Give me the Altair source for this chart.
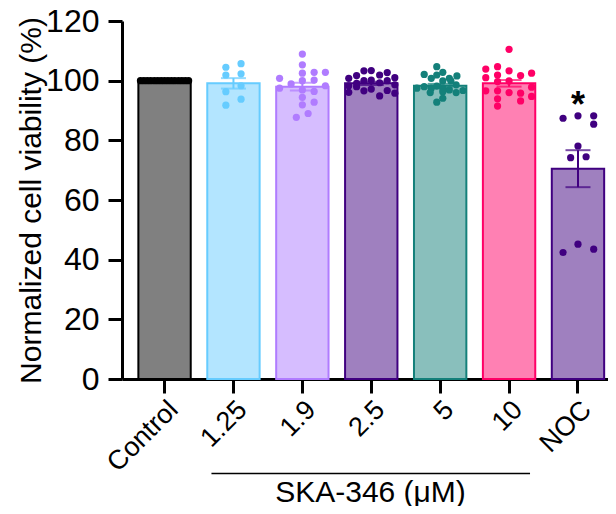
import altair as alt
import pandas as pd

FONT = "Liberation Sans"

groups = ["Control", "1.25", "1.9", "2.5", "5", "10", "NOC"]
means = [100.0, 99.1, 98.0, 99.1, 98.3, 99.1, 70.5]
sems = [0.0, 1.75, 1.3, 0.55, 0.62, 1.1, 6.2]
line_colors = ["#000000", "#66CCFF", "#B07CFF", "#400080", "#14807A", "#FF0066", "#400080"]
fill_colors = ["#808080", "#B3E5FF", "#D6BDFF", "#9F80BF", "#89BFBC", "#FF80B3", "#9F80BF"]

# individual replicate values (%) and their horizontal slot within the bar (-1..1 of half width)
ctrl_vals = [100.0] * 15
ctrl_off = [-0.92, -0.79, -0.66, -0.53, -0.39, -0.26, -0.13, 0.0, 0.13, 0.26, 0.39, 0.53, 0.66, 0.79, 0.92]

c125_vals = [104.5, 105.7, 101.9, 102.3, 98.3, 96.3, 93.8, 91.8]
c125_off = [-0.29, 0.29, -0.29, 0.29, 0.29, -0.29, 0.29, -0.29]

c19_vals = [108.9, 105.3, 102.5, 102.8, 102.8, 100.8, 100.0, 100.2, 98.9, 98.3, 97.5, 96.9, 96.4, 94.4, 92.8, 91.9, 89.0, 87.7]
c19_off = [0.0, 0.0, 0.0, 0.45, 0.88, -0.87, 0.0, 0.45, -0.43, 0.88, -0.87, 0.0, 0.45, 0.0, 0.45, 0.0, 0.22, -0.23]

c25_vals = [100.8, 101.7, 103.3, 103.4, 101.9, 102.7, 101.0,
            98.3, 99.1, 100.0, 100.2, 99.3, 100.0, 98.6,
            96.1, 98.0, 96.6, 97.2, 94.9, 96.7, 95.8]
c25_off = [-0.86, -0.56, -0.28, 0.0, 0.32, 0.61, 0.9,
           -0.86, -0.56, -0.28, 0.0, 0.32, 0.61, 0.9,
           -0.86, -0.56, -0.28, 0.0, 0.32, 0.61, 0.9]

c5_vals = [104.7, 102.1, 102.8, 100.8, 101.9, 100.8, 101.6, 99.9, 99.9, 98.6, 97.5,
           98.0, 97.5, 98.2, 97.5, 96.9, 96.7, 96.0, 96.3, 96.0, 94.1, 92.8]
c5_off = [-0.13, -0.61, 0.1, -0.34, -0.13, 0.35, 0.64, 0.1, 0.41, 0.61, -0.89,
          -0.61, -0.34, -0.13, 0.1, 0.35, 0.87, -0.38, 0.1, 0.61, 0.1, -0.13]

c10_vals = [110.5, 103.9, 104.7, 103.3, 101.0, 101.9, 101.7, 102.5, 99.7, 99.9,
            96.6, 96.6, 96.0, 95.8, 97.8, 93.9, 93.2, 94.7, 91.5]
c10_off = [0.0, -0.89, -0.44, 0.0, -0.89, -0.44, 0.44, 0.86, -0.44, 0.0,
           -0.89, -0.44, 0.0, 0.44, 0.86, -0.44, 0.44, 0.86, -0.44]

noc_vals = [87.4, 88.2, 88.2, 85.4, 78.1, 74.2, 74.5, 42.4, 45.2, 43.5]
noc_off = [-0.57, 0.0, 0.6, 0.6, 0.0, -0.28, 0.31, -0.57, 0.0, 0.6]

y_ticks = [0, 20, 40, 60, 80, 100, 120]
x_title = "SKA-346 (μM)"
y_title = "Normalized cell viability (%)"

# ---- tables ----
bars = pd.DataFrame({"group": groups, "mean": means, "sem": sems})
bars["lo"] = bars["mean"] - bars["sem"]
bars["hi"] = bars["mean"] + bars["sem"]

rows = []
for g, vals, offs in [("Control", ctrl_vals, ctrl_off), ("1.25", c125_vals, c125_off),
                      ("1.9", c19_vals, c19_off), ("2.5", c25_vals, c25_off),
                      ("5", c5_vals, c5_off), ("10", c10_vals, c10_off),
                      ("NOC", noc_vals, noc_off)]:
    for v, o in zip(vals, offs):
        rows.append({"group": g, "value": v, "off": o})
pts = pd.DataFrame(rows)

bracket = pd.DataFrame({"group": ["1.25"], "end": ["10"]})
star = pd.DataFrame({"group": ["NOC"], "y": [93.3], "label": ["*"]})

# ---- layout ----
W, H = 486, 358
PI, PO = 0.24, 0.1466
step = W / (len(groups) - PI + 2 * PO)
BW = step * (1 - PI)

xscale = alt.Scale(domain=groups, paddingInner=PI, paddingOuter=PO, align=0.81)
yscale = alt.Scale(domain=[0, 120], nice=False, zero=True, padding=0)
fill_scale = alt.Scale(domain=groups, range=fill_colors)
line_scale = alt.Scale(domain=groups, range=line_colors)

xaxis = alt.Axis(labelAngle=-45, labelAlign="right", labelBaseline="top",
                 labelFont=FONT, labelFontSize=27, labelColor="black", labelPadding=3,
                 tickSize=14, tickWidth=3, tickColor="black",
                 domainWidth=3, domainColor="black",
                 title=x_title, titleFont=FONT, titleFontSize=30, titleFontWeight="normal",
                 titleColor="black", titleY=122, titleX=248, titleBaseline="alphabetic")
yaxis = alt.Axis(values=y_ticks, grid=False,
                 labelFont=FONT, labelFontSize=32, labelColor="black", labelPadding=9,
                 tickSize=14, tickWidth=3, tickColor="black",
                 domainWidth=3, domainColor="black",
                 title=y_title, titleFont=FONT, titleFontSize=30, titleFontWeight="normal",
                 titleColor="black", titleX=-91, titleY=H / 2, titleAlign="center",
                 titleBaseline="middle")

X = alt.X("group:N", sort=groups, scale=xscale, axis=xaxis)
Y = lambda f: alt.Y(f, scale=yscale, axis=yaxis)

bar_layer = alt.Chart(bars).mark_bar(strokeWidth=2).encode(
    x=alt.X("group:N", sort=groups, scale=xscale, axis=xaxis, bandPosition=0),
    x2=alt.X2("group:N", bandPosition=1),
    y=Y("mean:Q"),
    y2=alt.datum(0),
    fill=alt.Fill("group:N", scale=fill_scale, legend=None),
    stroke=alt.Stroke("group:N", scale=line_scale, legend=None),
)

pt_layer = alt.Chart(pts).mark_circle(size=52, opacity=1).encode(
    x=X,
    xOffset=alt.XOffset("off:Q", scale=alt.Scale(domain=[-1, 1], range=[0, BW])),
    y=Y("value:Q"),
    color=alt.Color("group:N", scale=line_scale, legend=None),
)

err_base = alt.Chart(bars).transform_filter("datum.sem > 0")
err_rule = err_base.mark_rule(strokeWidth=2).encode(
    x=X, y=Y("lo:Q"), y2="hi:Q",
    color=alt.Color("group:N", scale=line_scale, legend=None),
)
err_top = err_base.mark_tick(thickness=2, size=25).encode(
    x=X, y=Y("hi:Q"), color=alt.Color("group:N", scale=line_scale, legend=None),
)
err_bot = err_base.mark_tick(thickness=2, size=25).encode(
    x=X, y=Y("lo:Q"), color=alt.Color("group:N", scale=line_scale, legend=None),
)

bracket_layer = alt.Chart(bracket).mark_rule(strokeWidth=1.5, color="black").encode(
    x=alt.X("group:N", sort=groups, scale=xscale, axis=xaxis, bandPosition=0.08),
    x2=alt.X2("end:N", bandPosition=0.9),
    y=alt.value(452.6),
)

star_layer = alt.Chart(star).mark_text(fontSize=36, fontWeight="bold", font=FONT,
                                       color="black", baseline="middle", dy=5).encode(
    x=X, y=Y("y:Q"), text="label:N",
)

chart = alt.layer(bar_layer, pt_layer, err_rule, err_top, err_bot, bracket_layer, star_layer).properties(
    width=W, height=H,
    autosize=alt.AutoSizeParams(type="none"),
    padding={"left": 114, "top": 13, "right": 0, "bottom": 127},
    background="white",
).configure_view(stroke=None)

chart.save("out.html", embed_options={"renderer": "svg", "actions": False})
